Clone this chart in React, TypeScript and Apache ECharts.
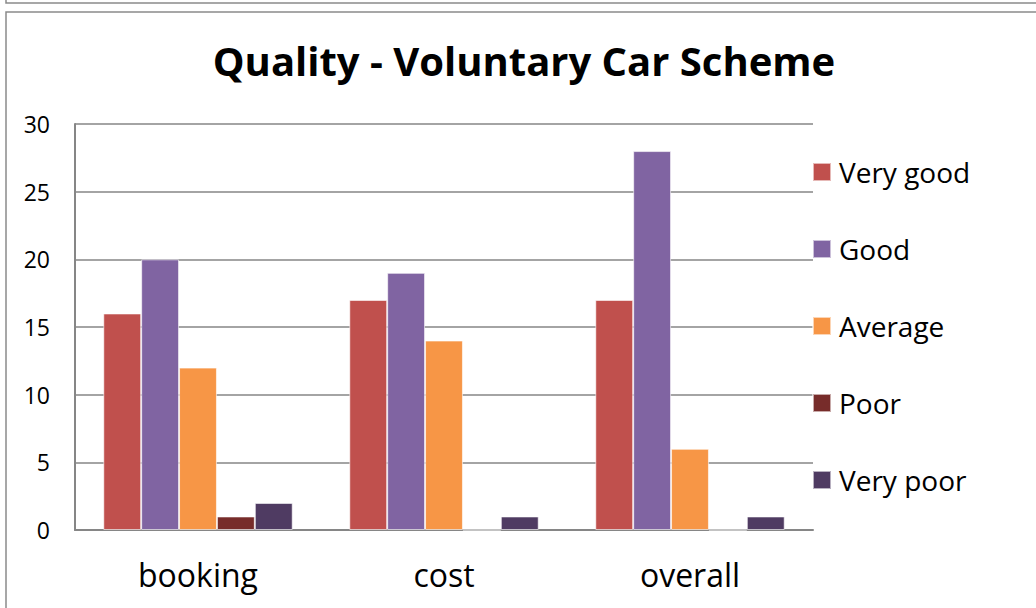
import React, { useEffect, useRef } from "react";
import * as echarts from "echarts";

const categories = ["booking", "cost", "overall"];
const seriesNames = ["Very good", "Good", "Average", "Poor", "Very poor"];
const veryGood = [16, 17, 17];
const good = [20, 19, 28];
const average = [12, 14, 6];
const poor = [1, 0, 0];
const veryPoor = [2, 1, 1];
const colors = ["#C0504D", "#8064A2", "#F79646", "#772C2A", "#4F3B62"];
const yTicks = [0, 5, 10, 15, 20, 25, 30];

const FONT = "'Open Sans', 'Noto Sans', sans-serif";

export default function App() {
  const ref = useRef<HTMLDivElement>(null);
  useEffect(() => {
    if (!ref.current) return;
    const chart = echarts.init(ref.current, undefined, { renderer: "svg" });
    const values = [veryGood, good, average, poor, veryPoor];
    chart.setOption({
      animation: false,
      backgroundColor: "#ffffff",
      textStyle: { fontFamily: FONT },
      title: {
        text: "Quality - Voluntary Car Scheme",
        left: 519,
        textAlign: "center",
        top: 35,
        textStyle: { fontFamily: FONT, fontWeight: "bold", fontSize: 40, color: "#000" },
      },
      legend: {
        orient: "vertical",
        left: 812,
        top: 158,
        padding: 0,
        itemWidth: 18,
        itemHeight: 18,
        itemGap: 49,
        icon: "rect",
        data: seriesNames,
        textStyle: { fontFamily: FONT, fontSize: 28, color: "#000", padding: [0, 0, 0, 3] },
      },
      grid: { left: 75, top: 124, width: 738, height: 406, containLabel: false },
      xAxis: {
        type: "category",
        data: categories,
        axisLine: { show: true, lineStyle: { color: "#868686", width: 2 } },
        axisTick: { show: false },
        axisLabel: { fontFamily: FONT, fontSize: 32, color: "#000", margin: 28 },
        splitLine: { show: false },
      },
      yAxis: {
        type: "value",
        min: yTicks[0],
        max: yTicks[yTicks.length - 1],
        interval: 5,
        axisLine: { show: true, lineStyle: { color: "#868686", width: 2 } },
        axisTick: { show: false },
        axisLabel: { fontFamily: FONT, fontSize: 23, color: "#000", margin: 25 },
        splitLine: { show: true, lineStyle: { color: "#868686", width: 1.5 } },
      },
      graphic: [
        {
          type: "rect",
          shape: { x: 6, y: -20, width: 1100, height: 23 },
          style: { fill: "none", stroke: "#8a8a8a", lineWidth: 1.5 },
          silent: true,
        },
        {
          type: "rect",
          shape: { x: 6, y: 12, width: 1100, height: 700 },
          style: { fill: "none", stroke: "#8a8a8a", lineWidth: 1.5 },
          silent: true,
        },
      ],
      series: seriesNames.map((name, i) => ({
        name,
        type: "bar",
        data: values[i],
        barGap: "0%",
        barCategoryGap: "23%",
        itemStyle: { color: colors[i], borderColor: "rgba(255,255,255,0.6)", borderWidth: 1 },
      })),
    });
    return () => chart.dispose();
  }, []);
  return (
    <div
      ref={ref}
      style={{ position: "absolute", left: 0, top: 0, width: 1036, height: 608 }}
    />
  );
}
